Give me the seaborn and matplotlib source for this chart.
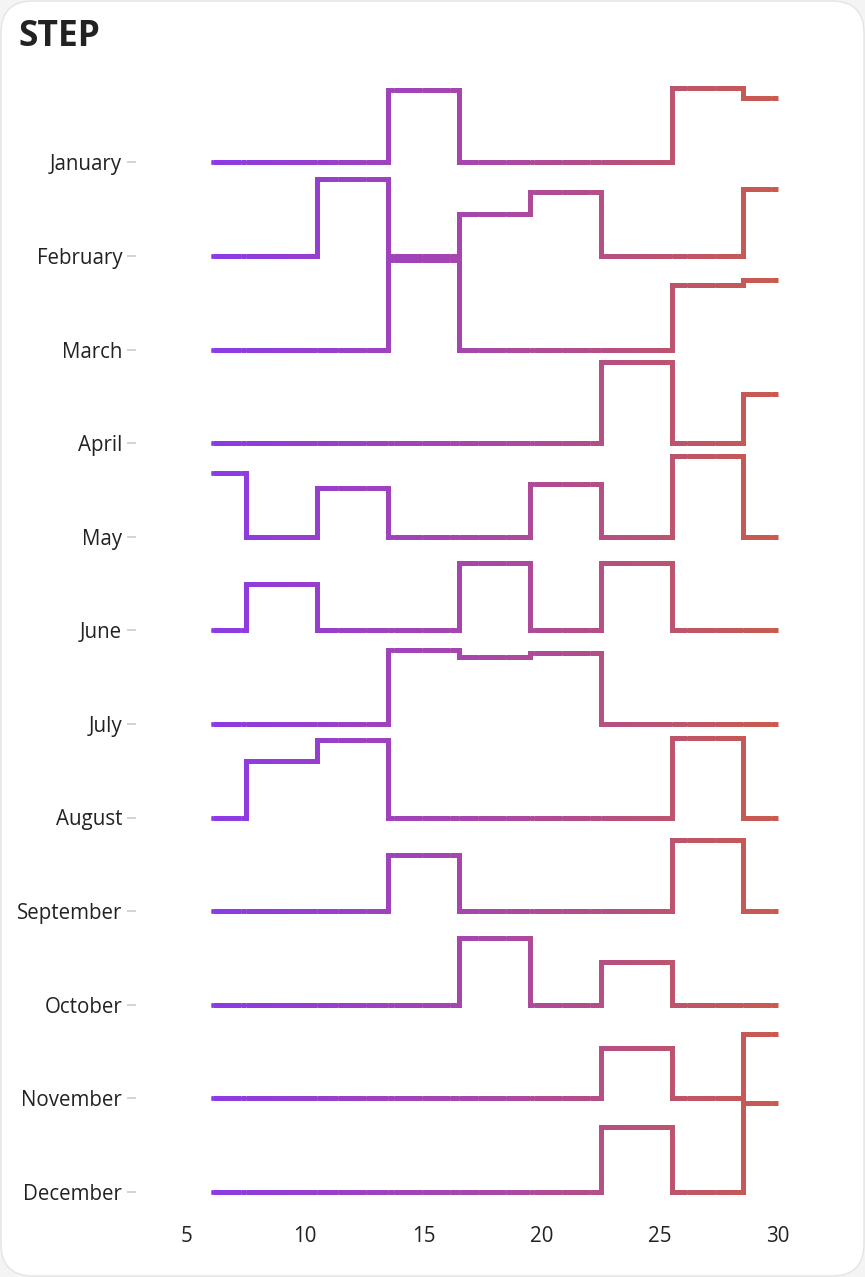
import numpy as np
import pandas as pd
import matplotlib
matplotlib.use("Agg")
import matplotlib.pyplot as plt
import seaborn as sns
from matplotlib.collections import LineCollection
from matplotlib.colors import LinearSegmentedColormap, Normalize
from matplotlib.patches import FancyBboxPatch
from matplotlib.transforms import IdentityTransform
from matplotlib.cbook import pts_to_midstep

# ---------------- data ----------------
months = ["January", "February", "March", "April", "May", "June",
          "July", "August", "September", "October", "November", "December"]
x_values = [6, 9, 12, 15, 18, 21, 24, 27, 30]
x_ticks = [5, 10, 15, 20, 25, 30]

january = [0, 0, 0, 77, 0, 0, 0, 79, 69]
february = [0, 0, 82, 0, 45, 68, 0, 0, 72]
march = [0, 0, 0, 96, 0, 0, 0, 69, 74]
april = [0, 0, 0, 0, 0, 0, 87, 0, 52]
may = [68, 0, 52, 0, 0, 56, 0, 86, 0]
june = [0, 49, 0, 0, 72, 0, 72, 0, 0]
july = [0, 0, 0, 79, 72, 76, 0, 0, 0]
august = [0, 60, 83, 0, 0, 0, 0, 85, 0]
september = [0, 0, 0, 60, 0, 0, 0, 76, 0]
october = [0, 0, 0, 0, 71, 0, 46, 0, 0]
november = [0, 0, 0, 0, 0, 0, 54, 0, -5]
december = [0, 0, 0, 0, 0, 0, 69, 0, 169]

series = [january, february, march, april, may, june,
          july, august, september, october, november, december]
spacing = 100  # distance between ridge baselines, in value units

# ---------------- style ----------------
sns.set_theme(style="white")
plt.rcParams["font.family"] = ["Open Sans", "DejaVu Sans"]

W, H = 865, 1277
fig = plt.figure(figsize=(W / 100, H / 100), dpi=100, facecolor="#f4f4f4")
card = FancyBboxPatch((1, 1), W - 2, H - 2,
                      boxstyle="round,pad=0,rounding_size=32",
                      transform=IdentityTransform(),
                      facecolor="white", edgecolor="#e4e4e4", linewidth=1.0,
                      zorder=-10)
fig.patches.append(card)

ax_left, ax_right, ax_top, ax_bottom = 136, 778, 70, 1212
ax = fig.add_axes([ax_left / W, 1 - ax_bottom / H,
                   (ax_right - ax_left) / W, (ax_bottom - ax_top) / H])
ax.set_facecolor("none")
ax.set_zorder(5)

baselines = [(len(months) - 1 - i) * spacing for i in range(len(months))]

# long-form table for seaborn
rows = []
for m, base, vals in zip(months, baselines, series):
    for xv, v in zip(x_values, vals):
        rows.append({"month": m, "x": xv, "y": base + v})
df = pd.DataFrame(rows)

cmap = LinearSegmentedColormap.from_list("grad", ["#8B3AE6", "#A947A6", "#C95B4C"])
norm = Normalize(vmin=min(x_values), vmax=max(x_values))

# base step lines via seaborn (covered by the gradient strokes)
sns.lineplot(data=df, x="x", y="y", units="month", estimator=None,
             drawstyle="steps-mid", color="#A947A6", linewidth=2.0,
             solid_capstyle="butt", solid_joinstyle="miter",
             legend=False, ax=ax)

lw = 3.6
for k, (base, vals) in enumerate(zip(baselines, series)):
    ys = np.asarray(vals, dtype=float) + base
    sx, sy = pts_to_midstep(np.asarray(x_values, dtype=float), ys)
    hsegs, hcols, vsegs, vcols = [], [], [], []
    for j in range(len(sx) - 1):
        x0, y0, x1, y1 = sx[j], sy[j], sx[j + 1], sy[j + 1]
        if j % 2 == 0:  # horizontal segment
            n = max(2, int(np.ceil((x1 - x0) / 0.08)))
            edges = np.linspace(x0, x1, n + 1)
            for a, b in zip(edges[:-1], edges[1:]):
                hsegs.append([(a, y0), (min(b + 0.04, x1), y0)])
                hcols.append(cmap(norm((a + b) / 2)))
        else:  # vertical segment
            if abs(y1 - y0) > 1e-9:
                vsegs.append([(x0, y0), (x1, y1)])
                vcols.append(cmap(norm(x0)))
    hc = LineCollection(hsegs, colors=hcols, linewidths=lw, capstyle="butt",
                        zorder=3 + k * 0.01, clip_on=False)
    vc = LineCollection(vsegs, colors=vcols, linewidths=lw, capstyle="projecting",
                        zorder=3 + k * 0.01 + 0.005, clip_on=False)
    ax.add_collection(hc)
    ax.add_collection(vc)

ppx = (778 - 187) / 25.0
ax.set_xlim(5 - (187 - ax_left) / ppx, 30)
ppy = 0.936
ax.set_ylim(-(ax_bottom - 1191.9) / ppy, baselines[0] + (162.3 - ax_top) / ppy)

ax.set_xticks(x_ticks)
ax.set_xticklabels([str(t) for t in x_ticks])
ax.set_yticks(baselines)
ax.set_yticklabels(months)
ax.set_xlabel("")
ax.set_ylabel("")
ax.tick_params(axis="y", length=6.5, width=1.2, color="#cccccc", pad=3.5,
               labelsize=14.8, labelcolor="#222222", left=True)
ax.tick_params(axis="x", length=0, pad=10, labelsize=14.8, labelcolor="#222222")
ax.grid(False)
sns.despine(ax=ax, left=True, bottom=True)

fig.text(18 / W, 1 - 46 / H, "STEP", fontsize=25.5, fontweight="bold",
         va="baseline", ha="left", color="#222222")

fig.savefig("out.png", dpi=100, facecolor=fig.get_facecolor())
